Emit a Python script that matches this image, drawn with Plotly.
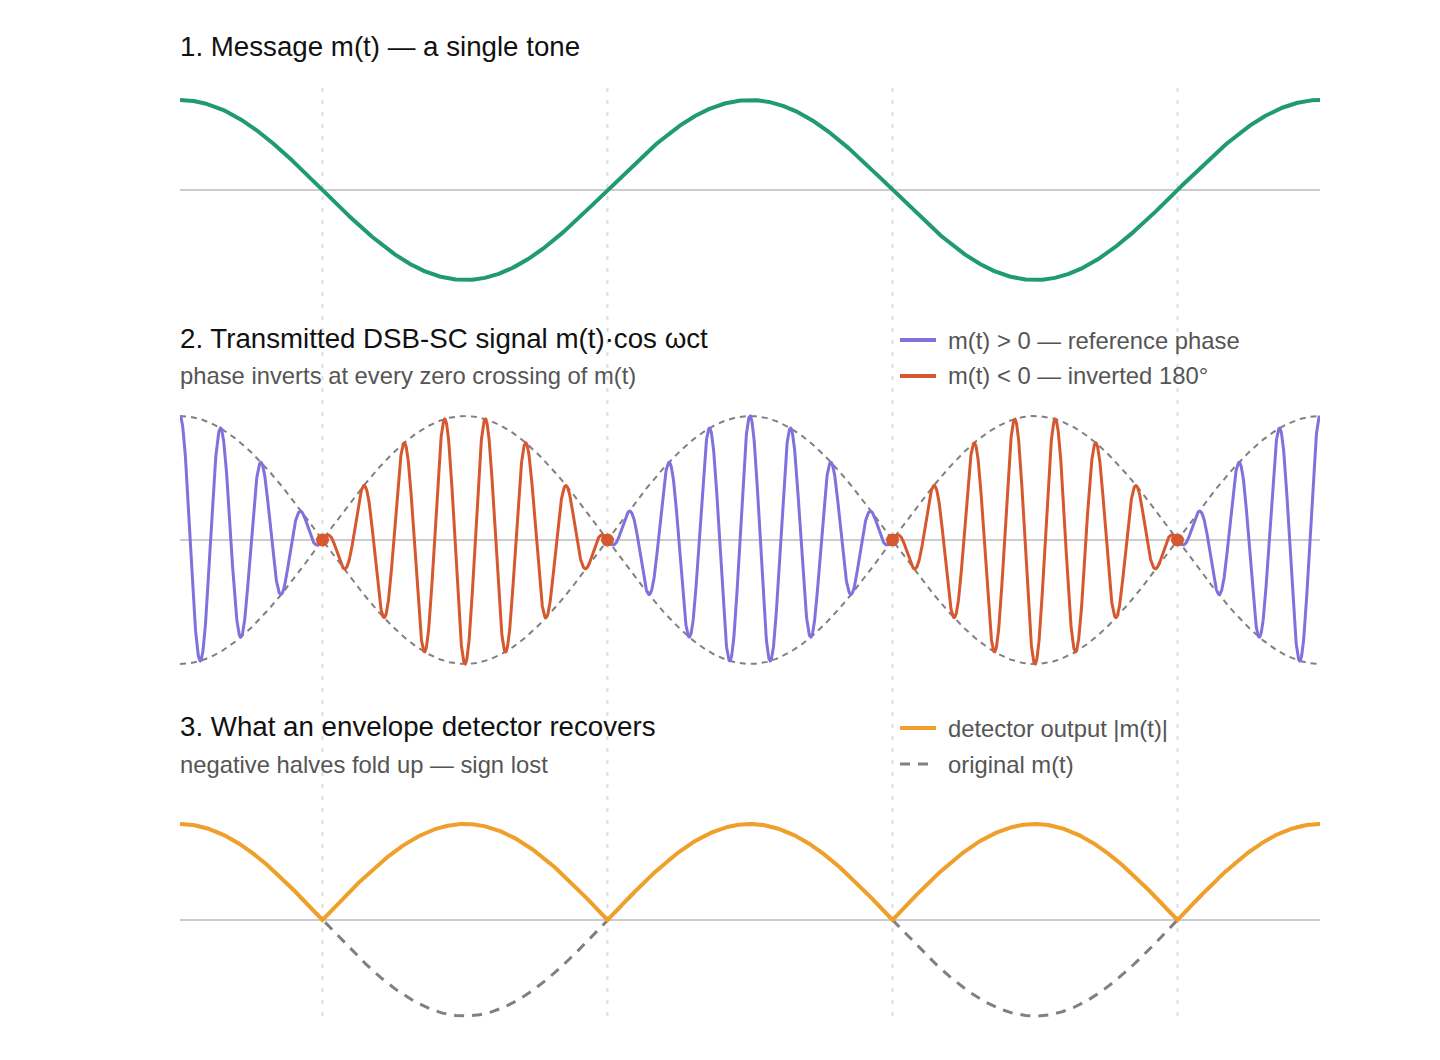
import numpy as np
import plotly.graph_objects as go

# ---- chart parameters / data ----
message_cycles = 2.0          # number of message periods shown
carrier_ratio = 14            # carrier frequency / message frequency
zero_crossings = [0.25, 0.75, 1.25, 1.75]   # in message periods
titles = ["1. Message m(t) \u2014 a single tone",
          "2. Transmitted DSB-SC signal m(t)\u00b7cos \u03c9ct",
          "3. What an envelope detector recovers"]
subtitles = ["", "phase inverts at every zero crossing of m(t)",
             "negative halves fold up \u2014 sign lost"]
legend2 = ["m(t) > 0 \u2014 reference phase", "m(t) < 0 \u2014 inverted 180\u00b0"]
legend3 = ["detector output |m(t)|", "original m(t)"]

C_GREEN = "#1f9b6f"
C_PURPLE = "#7f72dc"
C_RED = "#d6582f"
C_ORANGE = "#f0a02a"
C_GRAY = "#808080"

# sample points (include the exact zero crossings)
t = np.union1d(np.linspace(0, message_cycles, 4001), np.array(zero_crossings))
m = np.cos(2 * np.pi * t)
m[np.isin(t, zero_crossings)] = 0.0
carrier = np.cos(2 * np.pi * carrier_ratio * t)
s = m * carrier

pos = np.where(m >= 0, s, np.nan)
neg = np.where(m <= 0, s, np.nan)

W, H = 1440, 1060
ML, MR, MT, MB = 180, 120, 60, 30
PH = H - MT - MB
PW = W - ML - MR


def py(p):
    return (H - MB - p) / PH


def px(p):
    return (p - ML) / PW


def dom(zero_px, amp_px, rng):
    top = zero_px - amp_px * rng
    bot = zero_px + amp_px * rng
    return [py(bot), py(top)]


fig = go.Figure()

# panel 1
fig.add_trace(go.Scatter(x=t, y=m, mode="lines", line=dict(color=C_GREEN, width=4),
                         yaxis="y", hoverinfo="skip"))
# panel 2
fig.add_trace(go.Scatter(x=t, y=m, mode="lines", line=dict(color=C_GRAY, width=2, dash="6px,5px"),
                         yaxis="y2", hoverinfo="skip"))
fig.add_trace(go.Scatter(x=t, y=-m, mode="lines", line=dict(color=C_GRAY, width=2, dash="6px,5px"),
                         yaxis="y2", hoverinfo="skip"))
fig.add_trace(go.Scatter(x=t, y=pos, mode="lines", line=dict(color=C_PURPLE, width=3),
                         yaxis="y2", connectgaps=False, hoverinfo="skip"))
fig.add_trace(go.Scatter(x=t, y=neg, mode="lines", line=dict(color=C_RED, width=3),
                         yaxis="y2", connectgaps=False, hoverinfo="skip"))
fig.add_trace(go.Scatter(x=zero_crossings, y=[0] * len(zero_crossings), mode="markers",
                         marker=dict(color=C_RED, size=13), yaxis="y2", hoverinfo="skip"))
# panel 3
fig.add_trace(go.Scatter(x=t, y=m, mode="lines", line=dict(color=C_GRAY, width=3, dash="10px,8px"),
                         yaxis="y3", hoverinfo="skip"))
fig.add_trace(go.Scatter(x=t, y=np.abs(m), mode="lines", line=dict(color=C_ORANGE, width=4),
                         yaxis="y3", hoverinfo="skip"))

shapes = []
for zc in zero_crossings:
    shapes.append(dict(type="line", xref="x", yref="paper", x0=zc, x1=zc,
                       y0=py(1016), y1=py(88), layer="below",
                       line=dict(color="#dddddd", width=2, dash="4px,8px")))

annotations = []


def txt(x_px, y_px, text, size, color):
    annotations.append(dict(xref="paper", yref="paper", x=px(x_px - 2), y=py(y_px), text=text,
                            showarrow=False, xanchor="left", yanchor="middle",
                            font=dict(size=size, color=color)))


txt(180, 46.5, titles[0], 27.7, "#111111")
txt(180, 338, titles[1], 27.7, "#111111")
txt(180, 376, subtitles[1], 23.8, "#555555")
txt(180, 726, titles[2], 27.7, "#111111")
txt(180, 764, subtitles[2], 23.8, "#555555")

# legends
for (ypix, label, color, dash) in [(340, legend2[0], C_PURPLE, "solid"),
                                    (376, legend2[1], C_RED, "solid"),
                                    (728, legend3[0], C_ORANGE, "solid"),
                                    (764, legend3[1], C_GRAY, "10px,8px")]:
    shapes.append(dict(type="line", xref="paper", yref="paper", x0=px(900), x1=px(936),
                       y0=py(ypix), y1=py(ypix),
                       line=dict(color=color, width=4 if dash == "solid" else 3, dash=dash)))
    txt(948, ypix, label, 23.8, "#555555")

axis_common = dict(showgrid=False, showticklabels=False, ticks="", zeroline=True,
                   zerolinecolor="#cccccc", zerolinewidth=2, showline=False, fixedrange=True)

fig.update_layout(
    width=W, height=H,
    margin=dict(l=ML, r=MR, t=MT, b=MB),
    paper_bgcolor="white", plot_bgcolor="white",
    showlegend=False,
    font=dict(family="Liberation Sans, Arial, sans-serif"),
    xaxis=dict(range=[0, message_cycles], showgrid=False, showticklabels=False, ticks="",
               zeroline=False, showline=False, anchor="y3"),
    yaxis=dict(domain=dom(190, 90, 1.2), range=[-1.2, 1.2], anchor="x", **axis_common),
    yaxis2=dict(domain=dom(540, 124, 1.1), range=[-1.1, 1.1], anchor="x", **axis_common),
    yaxis3=dict(domain=dom(920, 96, 1.1), range=[-1.1, 1.1], anchor="x", **axis_common),
    shapes=shapes,
    annotations=annotations,
)

fig.write_html("out.html")
